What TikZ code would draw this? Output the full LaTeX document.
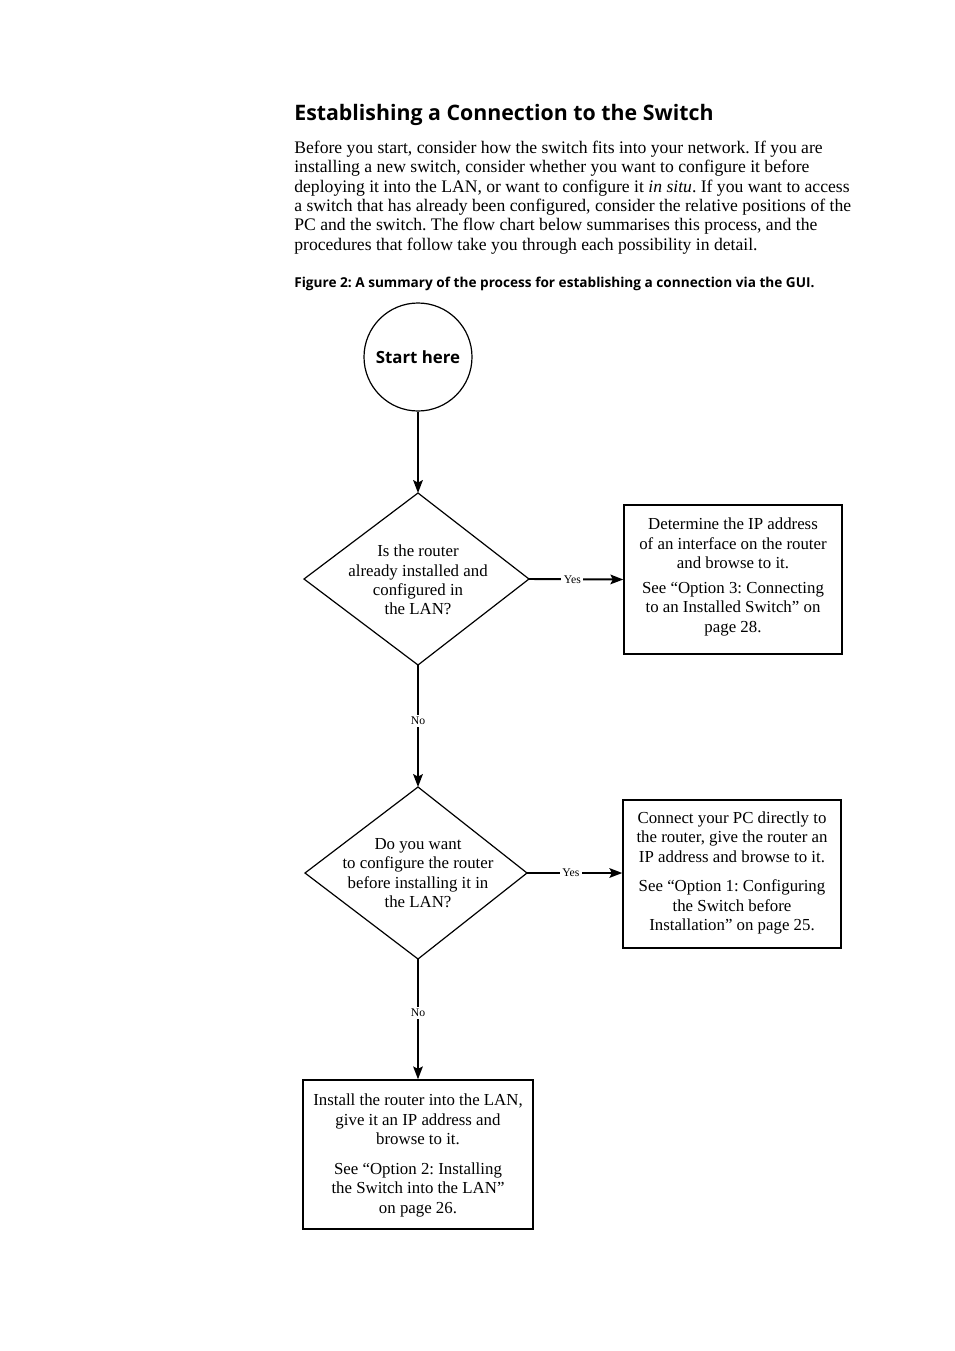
\documentclass[tikz,border=0pt]{standalone}
\usepackage{fontspec}
\setmainfont{Liberation Serif}
\newfontfamily\hfont{Open Sans}
\usetikzlibrary{shapes.geometric,arrows.meta}
\def\u{0.6238pt}
\frenchspacing
\begin{document}
\begin{tikzpicture}[x=0.6238pt,y=-0.6238pt,
  bodyf/.style={font=\fontsize{11}{12.1}\selectfont},
  boxf/.style={draw, line width=0.9pt, inner sep=0pt},
  txt/.style={align=center, inner sep=0pt, font=\fontsize{10.5}{12.1}\selectfont},
  diaf/.style={draw, line width=0.75pt, line join=miter},
  arr/.style={-{Stealth[length=8pt,width=6pt,inset=1.5pt]}, line width=1.2pt},
  lab/.style={fill=white, font=\fontsize{7.3}{8}\selectfont, inner sep=1.5pt}]
\useasboundingbox (0,0) rectangle (954,1351);
\fill[white] (0,0) rectangle (954,1351);

\node[anchor=base west, inner sep=0pt, font=\hfont\bfseries\fontsize{13.3}{16}\selectfont] (title) at (294,120) {Establishing a Connection to the Switch};
\node[anchor=north west, inner sep=0pt, align=left, bodyf] (para) at (294,140.5) {Before you start, consider how the switch fits into your network. If you are\\
installing a new switch, consider whether you want to configure it before\\
deploying it into the LAN, or want to configure it \textit{in situ}. If you want to access\\
a switch that has already been configured, consider the relative positions of the\\
PC and the switch. The flow chart below summarises this process, and the\\
procedures that follow take you through each possibility in detail.};
\node[anchor=base west, inner sep=0pt, font=\hfont\bfseries\fontsize{8.5}{10}\selectfont] (cap) at (294,287) {Figure 2: A summary of the process for establishing a connection via the GUI.};

\node[draw, circle, line width=0.75pt, minimum size=108*\u, inner sep=0pt, font=\hfont\bfseries\fontsize{10.5}{12}\selectfont] (start) at (418,357) {Start here};

% decision 1
\coordinate (d1n) at (418,493);
\coordinate (d1e) at (529,579);
\coordinate (d1s) at (418,665);
\coordinate (d1w) at (304,579);
\draw[diaf] (d1n) -- (d1e) -- (d1s) -- (d1w) -- cycle;
\node[txt] (d1) at (418,580) {Is the router\\already installed and\\configured in\\the LAN?};

% decision 2
\coordinate (d2n) at (418,787);
\coordinate (d2e) at (527,873);
\coordinate (d2s) at (418,959);
\coordinate (d2w) at (305,873);
\draw[diaf] (d2n) -- (d2e) -- (d2s) -- (d2w) -- cycle;
\node[txt] (d2) at (418,873) {Do you want\\to configure the router\\before installing it in\\the LAN?};

\node[boxf, minimum width=218*\u, minimum height=149*\u] (b1) at (733,579.5) {};
\node[txt] (b1t) at (733,577) {Determine the IP address\\of an interface on the router\\and browse to it.\\[3.5pt]See “Option 3: Connecting\\to an Installed Switch” on\\page 28.};

\node[boxf, minimum width=218*\u, minimum height=148*\u] (b2) at (732,874) {};
\node[txt] (b2t) at (732,873) {Connect your PC directly to\\the router, give the router an\\IP address and browse to it.\\[6.5pt]See “Option 1: Configuring\\the Switch before\\Installation” on page 25.};

\node[boxf, minimum width=230*\u, minimum height=149*\u] (b3) at (418,1154.5) {};
\node[txt] (b3t) at (418,1155.5) {Install the router into the LAN,\\give it an IP address and\\browse to it.\\[6.5pt]See “Option 2: Installing\\the Switch into the LAN”\\on page 26.};

\draw[arr] (start) -- (d1n);
\draw[arr] (d1e) -- node[lab, pos=0.46] (y1) {Yes} (b1.west);
\draw[arr] (d1s) -- node[lab, pos=0.46] (n1) {No} (d2n);
\draw[arr] (d2e) -- node[lab, pos=0.46] (y2) {Yes} (b2.west |- d2e);
\draw[arr] (d2s) -- node[lab, pos=0.45] (n2) {No} (b3.north);
\end{tikzpicture}
\end{document}
